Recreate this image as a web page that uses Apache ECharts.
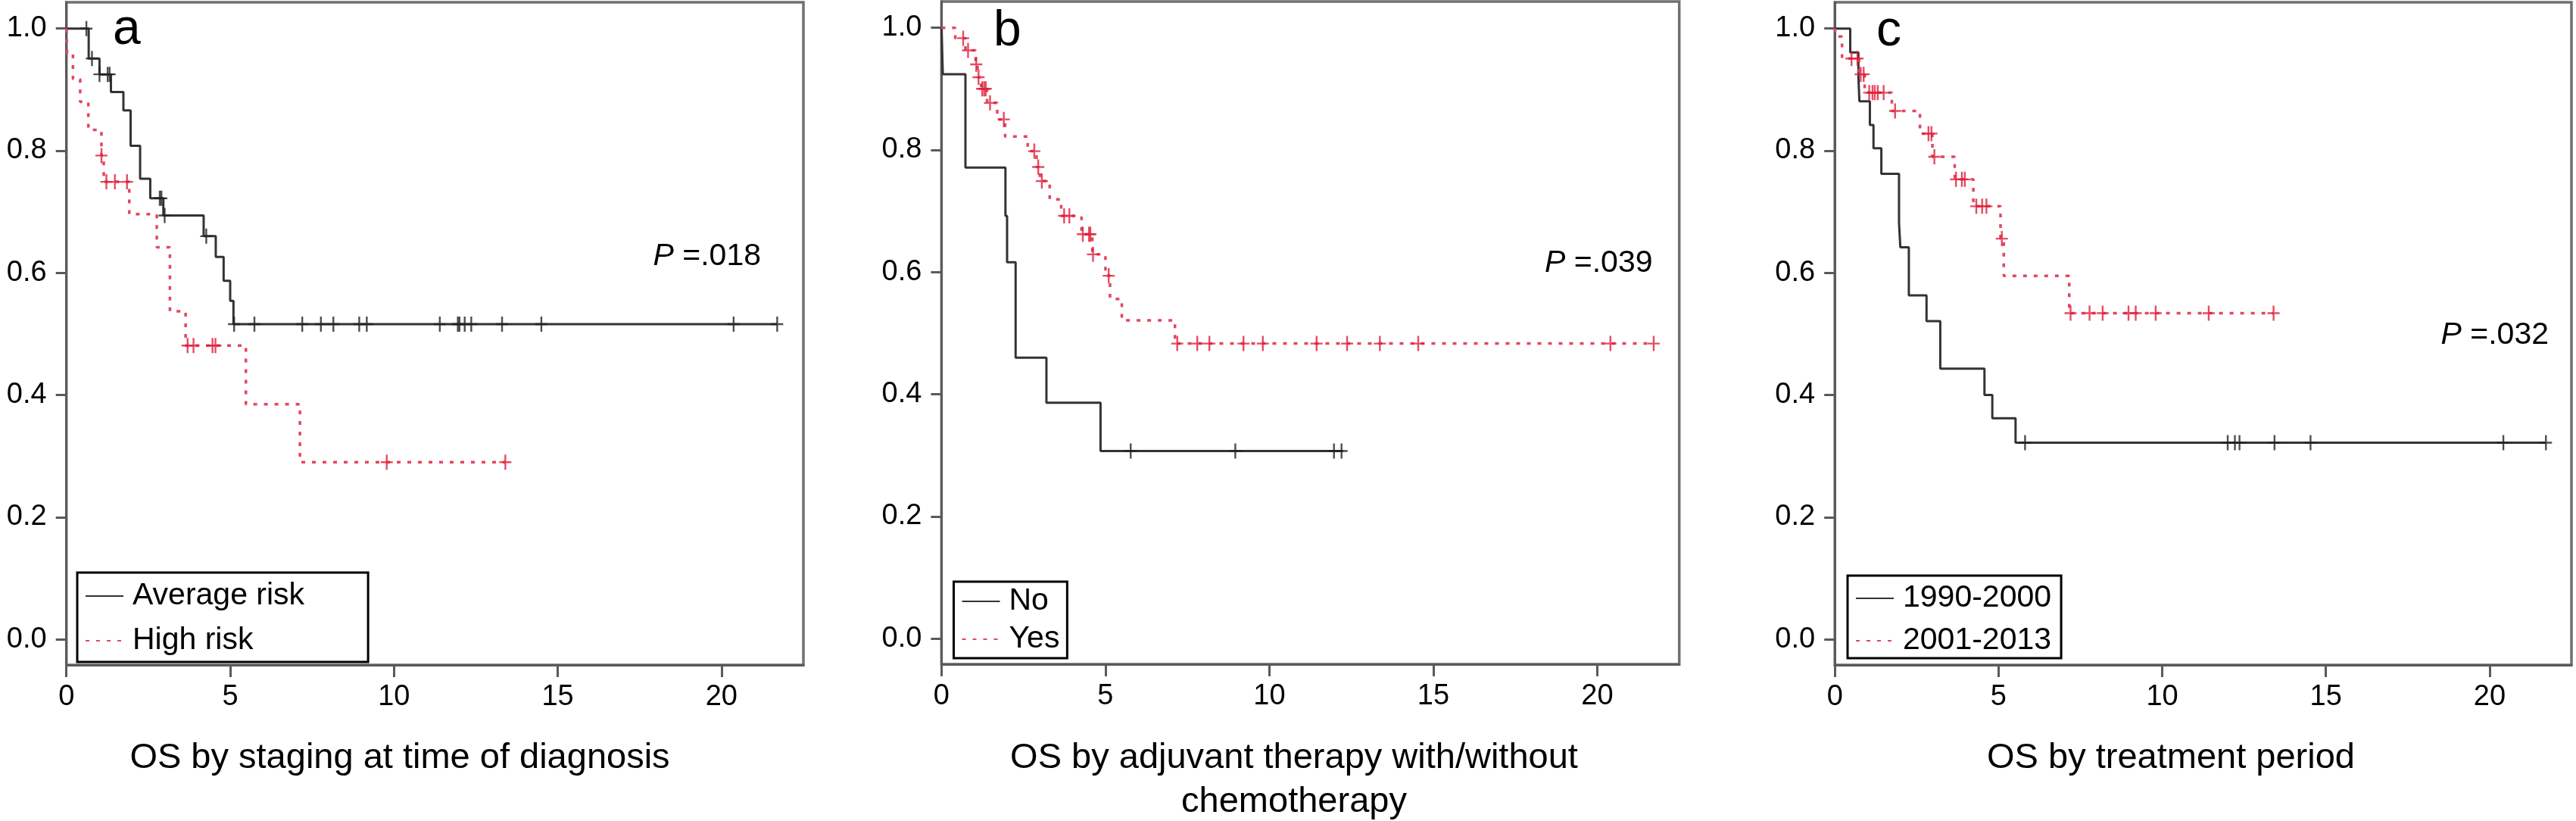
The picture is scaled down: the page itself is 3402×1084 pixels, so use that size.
<!DOCTYPE html>
<html><head><meta charset="utf-8">
<script src="https://cdn.jsdelivr.net/npm/echarts@6/dist/echarts.min.js"></script>
<style>html,body{margin:0;padding:0;background:#fff}#c{width:3402px;height:1084px}</style>
</head><body><div id="c"></div>
<script>
// ---- axis ticks ----
const xTicks = [0, 5, 10, 15, 20];
const yTicks = [0, 0.2, 0.4, 0.6, 0.8, 1.0];

// ---- panel a: staging ----
const aAvgTime = [0, 0.68, 1.01, 1.36, 1.74, 1.96, 2.25, 2.56, 2.96, 4.19, 4.56, 4.80, 5.00, 5.10, 21.7];
const aAvgSurv = [1, 0.951, 0.925, 0.896, 0.866, 0.808, 0.754, 0.722, 0.694, 0.660, 0.626, 0.587, 0.554, 0.516, 0.516];
const aAvgCens = [0.61, 0.78, 1.01, 1.26, 1.32, 2.85, 2.9, 3.0, 4.27, 5.12, 5.74, 7.2, 7.77, 8.15, 8.94, 9.17, 11.4, 11.95, 12.0, 12.16, 12.36, 13.3, 14.5, 20.37, 21.7];
const aHighTime = [0, 0.02, 0.2, 0.42, 0.67, 1.07, 1.14, 1.92, 2.76, 3.16, 3.64, 5.48, 7.13, 13.4];
const aHighSurv = [1, 0.958, 0.917, 0.88, 0.834, 0.792, 0.749, 0.696, 0.642, 0.537, 0.481, 0.385, 0.29, 0.29];
const aHighCens = [1.07, 1.22, 1.48, 1.85, 3.7, 3.88, 4.46, 4.55, 9.78, 13.4];

// ---- panel b: adjuvant therapy ----
const bNoTime = [0, 0.04, 0.73, 1.95, 2.0, 2.26, 3.2, 4.85, 12.25];
const bNoSurv = [1, 0.924, 0.771, 0.692, 0.616, 0.46, 0.386, 0.307, 0.307];
const bNoCens = [5.77, 8.96, 11.97, 12.2];
const bYesTime = [0, 0.42, 0.73, 1.04, 1.1, 1.21, 1.39, 1.7, 1.94, 2.63, 2.9, 3.0, 3.3, 3.65, 4.27, 4.6, 5.0, 5.14, 5.5, 7.12, 21.72];
const bYesSurv = [1, 0.983, 0.963, 0.94, 0.919, 0.9, 0.877, 0.85, 0.822, 0.798, 0.772, 0.749, 0.719, 0.692, 0.662, 0.629, 0.594, 0.556, 0.521, 0.483, 0.483];
const bYesCens = [0.66, 0.81, 1.06, 1.13, 1.24, 1.3, 1.35, 1.48, 1.9, 2.83, 2.95, 3.06, 3.74, 3.9, 4.31, 4.5, 4.54, 4.62, 5.1, 7.19, 7.8, 8.17, 9.21, 9.8, 11.44, 12.37, 13.37, 14.54, 20.4, 21.72];

// ---- panel c: treatment period ----
const cOldTime = [0, 0.47, 0.72, 0.75, 1.07, 1.18, 1.42, 1.96, 2.0, 2.26, 2.8, 3.22, 4.57, 4.81, 5.52, 21.72];
const cOldSurv = [1, 0.961, 0.92, 0.881, 0.842, 0.804, 0.762, 0.682, 0.642, 0.563, 0.521, 0.443, 0.4, 0.362, 0.322, 0.322];
const cOldCens = [5.81, 12.0, 12.22, 12.36, 13.43, 14.53, 20.42, 21.72];
const cNewTime = [0, 0.03, 0.22, 0.74, 0.91, 1.74, 2.6, 2.98, 3.66, 4.23, 5.06, 5.16, 7.16, 13.4];
const cNewSurv = [1, 0.987, 0.951, 0.925, 0.895, 0.865, 0.828, 0.79, 0.753, 0.709, 0.656, 0.595, 0.534, 0.534];
const cNewCens = [0.51, 0.69, 0.79, 0.88, 1.05, 1.15, 1.22, 1.31, 1.49, 1.84, 2.86, 2.95, 3.04, 3.7, 3.88, 3.97, 4.32, 4.5, 4.63, 5.1, 7.2, 7.78, 8.18, 8.97, 9.19, 9.8, 11.42, 13.4];

// ---- text ----
const panelLetters = ['a', 'b', 'c'];
const pValues = ['.018', '.039', '.032'];
const legendNames = [['Average risk', 'High risk'], ['No', 'Yes'], ['1990-2000', '2001-2013']];
const panelTitles = [['OS by staging at time of diagnosis'], ['OS by adjuvant therapy with/without', 'chemotherapy'], ['OS by treatment period']];

const FONT = '"Liberation Sans", Arial, Helvetica, sans-serif';
const BLACK = '#333333';
const RED = '#e2475f';
const RED_MARK = '#de1f3a';

function km(t, s) { return t.map((v, i) => [v, s[i]]); }
function survAt(t, s, x) { let v = s[0]; for (let i = 0; i < t.length; i++) { if (t[i] <= x) v = s[i]; } return v; }
function cens(t, s, c) { return c.map(x => [x, survAt(t, s, x)]); }

const plusPath = 'path://M-1.2,-10L1.2,-10L1.2,-1.2L8,-1.2L8,1.2L1.2,1.2L1.2,10L-1.2,10L-1.2,1.2L-8,1.2L-8,-1.2L-1.2,-1.2Z';

const grids = [
  { left: 87.7, right: 3402 - 1061, top: 3, bottom: 1084 - 878 },
  { left: 1243.4, right: 3402 - 2217.7, top: 2, bottom: 1084 - 877 },
  { left: 2423.2, right: 3402 - 3396, top: 3, bottom: 1084 - 878 }
];

const panels = [
  [[aAvgTime, aAvgSurv, aAvgCens], [aHighTime, aHighSurv, aHighCens]],
  [[bNoTime, bNoSurv, bNoCens], [bYesTime, bYesSurv, bYesCens]],
  [[cOldTime, cOldSurv, cOldCens], [cNewTime, cNewSurv, cNewCens]]
];

const xAxis = [], yAxis = [], series = [];
grids.forEach((g, i) => {
  g.show = true; g.borderColor = '#707070'; g.borderWidth = 3.5; g.backgroundColor = '#fff';
  xAxis.push({
    type: 'value', gridIndex: i, min: 0, max: 22.5,
    axisLine: { show: true, onZero: false, lineStyle: { color: '#5a5a5a', width: 3 } },
    axisTick: { show: true, inside: false, length: 16, customValues: xTicks, lineStyle: { color: '#5a5a5a', width: 3 } },
    axisLabel: { show: true, customValues: xTicks, margin: 24, fontSize: 38, fontFamily: FONT, color: '#000' },
    splitLine: { show: false }
  });
  yAxis.push({
    type: 'value', gridIndex: i, min: -0.042, max: 1.043,
    axisLine: { show: true, onZero: false, lineStyle: { color: '#5a5a5a', width: 3 } },
    axisTick: { show: true, inside: false, length: 14, customValues: yTicks, lineStyle: { color: '#5a5a5a', width: 3 } },
    axisLabel: { show: true, customValues: yTicks, margin: 26, fontSize: 38, fontFamily: FONT, color: '#000', formatter: v => v.toFixed(1) },
    splitLine: { show: false }
  });
  const [blk, red] = panels[i];
  const [n1, n2] = legendNames[i];
  series.push({
    name: n1, type: 'line', xAxisIndex: i, yAxisIndex: i, step: 'end', symbol: 'none',
    data: km(blk[0], blk[1]), lineStyle: { color: BLACK, width: 3 }, itemStyle: { color: BLACK }, z: 3
  });
  series.push({
    name: n2, type: 'line', xAxisIndex: i, yAxisIndex: i, step: 'end', symbol: 'none',
    data: km(red[0], red[1]), lineStyle: { color: RED, width: 3.5, type: [5, 9] }, itemStyle: { color: RED }, z: 3
  });
  series.push({
    name: n1 + ' censored', type: 'scatter', xAxisIndex: i, yAxisIndex: i, symbol: plusPath, symbolSize: [16, 20],
    symbolKeepAspect: false, data: cens(blk[0], blk[1], blk[2]), itemStyle: { color: '#222' }, z: 4, silent: true
  });
  series.push({
    name: n2 + ' censored', type: 'scatter', xAxisIndex: i, yAxisIndex: i, symbol: plusPath, symbolSize: [16, 20],
    symbolKeepAspect: false, data: cens(red[0], red[1], red[2]), itemStyle: { color: RED_MARK }, z: 4, silent: true
  });
});

const legendPos = [
  { left: 102, top: 756, padding: [9, 84, 6, 10], itemGap: 15 },
  { left: 1259.5, top: 768, padding: [4, 10, 3, 10], itemGap: 6 },
  { left: 2440, top: 760, padding: [8, 13, 1, 10], itemGap: 12 }
];
const legend = legendPos.map((p, i) => ({
  left: p.left, top: p.top, orient: 'vertical', padding: p.padding, itemGap: p.itemGap,
  borderColor: '#000', borderWidth: 3, backgroundColor: '#fff',
  itemWidth: 50, itemHeight: 14, selectedMode: false,
  itemStyle: { opacity: 0 },
  data: legendNames[i],
  textStyle: { fontSize: 41, fontFamily: FONT, color: '#000', lineHeight: 44, padding: [0, 0, 0, 7] }
}));

const graphic = [];
const letterPos = [[149, 45], [1312, 47], [2478, 47]];
const pPos = [[1005, 339], [2182.5, 347.5], [3366, 443]];
const titlePos = [528, 1709, 2867];
panelLetters.forEach((L, i) => {
  graphic.push({ type: 'text', left: letterPos[i][0], top: letterPos[i][1] - 38, style: { text: L, fontSize: 66, fontFamily: FONT, fill: '#000' } });
  graphic.push({ type: 'text', x: pPos[i][0], y: pPos[i][1], style: {
    text: '{i|P} =' + pValues[i], align: 'right', verticalAlign: 'middle', fontSize: 41, fontFamily: FONT, fill: '#000',
    rich: { i: { fontStyle: 'italic', fontSize: 41, fontFamily: FONT, fill: '#000' } } } });
  panelTitles[i].forEach((line, j) => {
    graphic.push({ type: 'text', x: titlePos[i], y: 1001 + j * 58, style: {
      text: line, align: 'center', verticalAlign: 'middle', fontSize: 47, fontFamily: FONT, fill: '#000' } });
  });
});

const chart = echarts.init(document.getElementById('c'), null, { renderer: 'canvas' });
chart.setOption({
  animation: false, backgroundColor: '#fff',
  grid: grids, xAxis, yAxis, series, legend, graphic
});
</script></body></html>
